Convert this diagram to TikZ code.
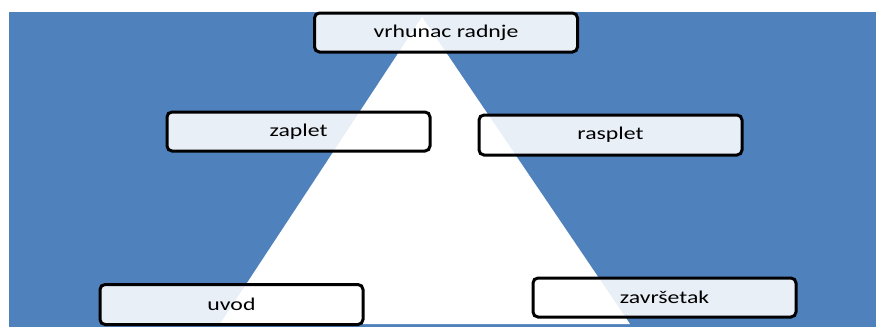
\documentclass[tikz,border=0pt]{standalone}
\usepackage{fontspec}
\setmainfont{Carlito}[FakeStretch=1.32]
\definecolor{bgblue}{HTML}{4F81BD}
\begin{document}
\begin{tikzpicture}[x=1pt,y=-1pt,
  stagebox/.style={draw=black, line width=3pt, rounded corners=5pt,
    fill=white, fill opacity=0.88, text opacity=1,
    minimum width=263pt, minimum height=39pt, inner sep=0pt,
    font=\fontsize{18}{20}\selectfont}]
\useasboundingbox (0,0) rectangle (876,327);
\fill[white] (0,0) rectangle (876,327);
\fill[bgblue] (9,12) rectangle (876,327);
\fill[white] (422,17) -- (630,324) -- (220,324) -- cycle;
\node[stagebox] (vrh) at (446,32.5) {vrhunac radnje};
\node[stagebox] (zap) at (298.5,131.5) {zaplet};
\node[stagebox, minimum height=40pt] (ras) at (610.5,135) {rasplet};
\node[stagebox, minimum height=40pt] (uvo) at (231.5,304.5) {uvod};
\node[stagebox] (zav) at (664.5,297.5) {završetak};
\end{tikzpicture}
\end{document}
